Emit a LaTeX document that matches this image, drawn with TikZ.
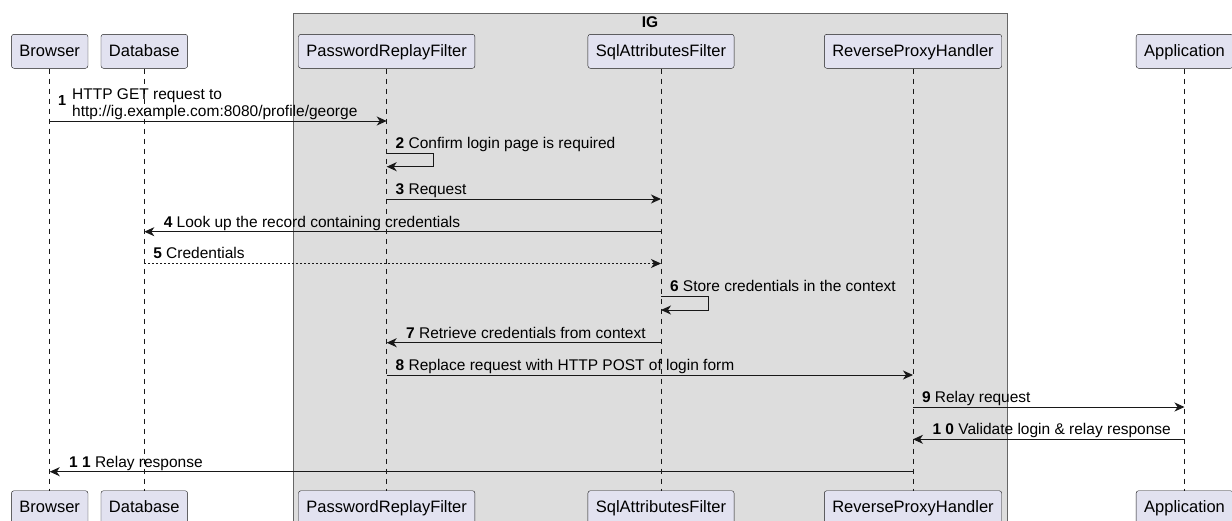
\documentclass[tikz,border=0pt]{standalone}
\usepackage{fontspec}
\setmainfont{Liberation Sans}
\usepackage{tikz}
\usetikzlibrary{arrows.meta}
\definecolor{partfill}{HTML}{E2E2F0}
\definecolor{ink}{HTML}{181818}
\definecolor{boxfill}{HTML}{DDDDDD}
\definecolor{boxline}{HTML}{666666}

\begin{document}
\begin{tikzpicture}[x=1pt,y=-1pt,>={Stealth[length=10pt,width=9pt,inset=3pt]},
    part/.style={draw=ink, fill=partfill, rounded corners=2.5pt, minimum height=34pt, inner xsep=8pt,
      text height=13pt, text depth=2.5pt, font=\fontsize{16.5}{19}\selectfont},
    life/.style={draw=ink, line width=0.5pt, dash pattern=on 5pt off 5pt},
    msg/.style={draw=ink, line width=1pt, ->},
    reply/.style={msg, dash pattern=on 2pt off 2pt},
    lbl/.style={inner sep=0pt, anchor=base west, font=\fontsize{15.5}{16.7}\selectfont}]
    \useasboundingbox (0,0) rectangle (1232,520);

    % IG box
    \fill[boxfill] (293.5,13.3) rectangle (1007.5,522);
    \draw[boxline, line width=1pt] (293.5,522) |- (1007.5,13.3) -- (1007.5,522);
    \node[font=\bfseries\fontsize{15.5}{17}\selectfont] (ig) at (650,22) {IG};

    % participants
    \node[part] (br) at (49.7,51.3) {Browser};
    \node[part] (db) at (144.3,51.3) {Database};
    \node[part] (prf) at (386.7,51.3) {PasswordReplayFilter};
    \node[part] (saf) at (661,51.3) {SqlAttributesFilter};
    \node[part] (rph) at (913,51.3) {ReverseProxyHandler};
    \node[part] (app) at (1184.5,51.3) {Application};

    \node[part] (brB) at (49.7,507.7) {Browser};
    \node[part] (dbB) at (144.3,507.7) {Database};
    \node[part] (prfB) at (386.7,507.7) {PasswordReplayFilter};
    \node[part] (safB) at (661,507.7) {SqlAttributesFilter};
    \node[part] (rphB) at (913,507.7) {ReverseProxyHandler};
    \node[part] (appB) at (1184.5,507.7) {Application};

    \foreach \p in {br,db,prf,saf,rph,app}
      \draw[life] (\p) -- (\p B);

    % messages
    \draw[msg] (br |- 0,121) -- (prf |- 0,121);
    \node[lbl, font=\bfseries\fontsize{14.5}{17}\selectfont] (n1) at (58,105.5) {1};
    \node[lbl, align=left] (t1) at (72,116.2) {HTTP GET request to\\http://ig.example.com:8080/profile/george};

    \draw[msg] (prf |- 0,153.3) -- node[lbl, pos=0, xshift=8.5pt, yshift=4.8pt]{\textbf{2} Confirm login page is required}
      ++(46.3,0) -- ++(0,13.4) -- (prf |- 0,166.7);

    \draw[msg] (prf |- 0,199) -- node[lbl, pos=0, xshift=8.5pt, yshift=4.6pt]{\textbf{3} Request} (saf |- 0,199);

    \draw[msg] (saf |- 0,231.7) -- node[lbl, pos=1, xshift=19pt, yshift=4.6pt]{\textbf{4} Look up the record containing credentials} (db |- 0,231.7);

    \draw[reply] (db |- 0,263.5) -- node[lbl, pos=0, xshift=8.5pt, yshift=4.6pt]{\textbf{5} Credentials} (saf |- 0,263.5);

    \draw[msg] (saf |- 0,296) -- node[lbl, pos=0, xshift=8.5pt, yshift=4.8pt]{\textbf{6} Store credentials in the context}
      ++(47,0) -- ++(0,14) -- (saf |- 0,310);

    \draw[msg] (saf |- 0,342.7) -- node[lbl, pos=1, xshift=19pt, yshift=4.6pt]{\textbf{7} Retrieve credentials from context} (prf |- 0,342.7);

    \draw[msg] (prf |- 0,375) -- node[lbl, pos=0, xshift=8.5pt, yshift=4.6pt]{\textbf{8} Replace request with HTTP POST of login form} (rph |- 0,375);

    \draw[msg] (rph |- 0,407) -- node[lbl, pos=0, xshift=8.5pt, yshift=4.6pt]{\textbf{9} Relay request} (app |- 0,407);

    \draw[msg] (app |- 0,439.3) -- node[lbl, pos=1, xshift=19pt, yshift=4.6pt]{\textbf{1 0} Validate login \& relay response} (rph |- 0,439.3);

    \draw[msg] (rph |- 0,471.7) -- node[lbl, pos=1, xshift=19pt, yshift=4.6pt]{\textbf{1 1} Relay response} (br |- 0,471.7);
\end{tikzpicture}
\end{document}
